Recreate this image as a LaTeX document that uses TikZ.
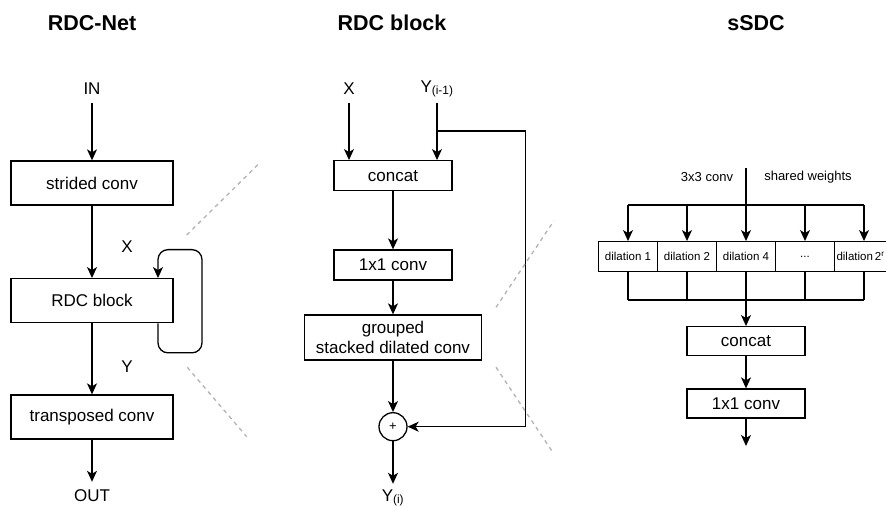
\documentclass[tikz,border=0pt]{standalone}
\usepackage{fontspec}
\setmainfont{Liberation Sans}
\usetikzlibrary{arrows.meta}
\tikzset{
  ln/.style={line width=1.3pt, black},
  arr/.style={ln, -{Stealth[length=11pt,width=10pt,inset=3pt]}},
  blk/.style={draw, line width=1.3pt, inner sep=0pt, align=center, font=\fontsize{17}{20}\selectfont},
  smallblk/.style={draw, line width=1.3pt, inner sep=0pt, minimum width=59pt, minimum height=30pt, font=\fontsize{11.5}{13}\selectfont},
  lbl/.style={inner sep=0pt, minimum height=28pt, font=\fontsize{17}{20}\selectfont},
  note/.style={inner sep=0pt, font=\fontsize{13}{15}\selectfont},
  ttl/.style={inner sep=0pt, font=\fontsize{21.5}{25}\selectfont\bfseries},
  gline/.style={line width=1.3pt, color=black!30, dash pattern=on 4pt off 4pt},
}
\begin{document}
\begin{tikzpicture}[x=1pt,y=-1pt]
\useasboundingbox (0,0) rectangle (886,510);

% titles
\node[ttl] (t1) at (92,23) {RDC-Net};
\node[ttl] (t2) at (392,23) {RDC block};
\node[ttl] (t3) at (756,23) {sSDC};

% ---------------- RDC-Net ----------------
\node[lbl] (in) at (92,89) {IN};
\node[blk, minimum width=162pt, minimum height=44pt] (sc) at (92,183) {strided conv};
\node[blk, minimum width=162pt, minimum height=44pt] (rdc) at (92,300.7) {RDC block};
\node[blk, minimum width=162pt, minimum height=44pt] (tc) at (92,417) {transposed conv};
\node[lbl] (out) at (92,496) {OUT};
\node[lbl] (xl) at (127,247) {X};
\node[lbl] (yl) at (127,367) {Y};

\draw[arr] (in) -- (sc);
\draw[arr] (sc) -- (rdc);
\draw[arr] (rdc) -- (tc);
\draw[arr] (tc) -- (out);
\draw[arr, rounded corners=10pt] ([xshift=66pt]rdc.south) -- ++(0,29.5) -- ++(44,0) -- ++(0,-103.2) -- ++(-44,0) -- ([xshift=66pt]rdc.north);

% ---------------- RDC block ----------------
\node[lbl] (x2) at (349,89) {X};
\node[lbl] (yim) at (437,89) {Y\textsubscript{(i-1)}};
\node[blk, minimum width=118pt, minimum height=30pt] (cat) at (393,175.7) {concat};
\node[blk, minimum width=118pt, minimum height=30pt] (c11) at (393,265) {1x1 conv};
\node[blk, minimum width=177pt, minimum height=45pt] (gsd) at (393,337.5) {grouped\\stacked dilated conv};
\node[draw, circle, line width=1.3pt, minimum size=28pt, inner sep=0pt, font=\fontsize{13}{15}\selectfont] (plus) at (393,426.7) {+};
\node[lbl] (yi) at (393,498) {Y\textsubscript{(i)}};

\coordinate (br) at (437,131);
\coordinate (rc) at (525.7,131);
\draw[arr] (x2) -- (x2 |- cat.north);
\draw[arr] (yim) -- (yim |- cat.north);
\draw[arr] (cat) -- (c11);
\draw[arr] (c11) -- (gsd);
\draw[arr] (gsd) -- (plus);
\draw[arr] (plus) -- (yi);
\draw[arr] (br) -- (rc) |- (plus);

% dashed guide lines
\draw[gline] (186.7,235) -- (259.3,163.3);
\draw[gline] (187.3,367.3) -- (246.7,436.7);
\draw[gline] (496,307.3) -- (554,220.7);
\draw[gline] (496,367.3) -- (551.7,450.7);

% ---------------- sSDC ----------------
\node[note] (k3) at (707,177) {3x3 conv};
\node[note] (sw) at (808,177) {shared weights};
\coordinate (top) at (746,168);
\coordinate (hub) at (746,205);
\coordinate (low) at (746,300);

\node[smallblk] (d1) at (628,256.7) {dilation 1};
\node[smallblk] (d2) at (687,256.7) {dilation 2};
\node[smallblk] (d3) at (746,256.7) {dilation 4};
\node[smallblk] (d4) at (805,256.7) {...};
\node[smallblk, text width=55pt, inner xsep=2pt, align=left] (d5) at (864,256.7) {dilation\,2\textsuperscript{r}};

\node[blk, minimum width=118pt, minimum height=29pt] (cat2) at (746,341.2) {concat};
\node[blk, minimum width=118pt, minimum height=29pt] (c112) at (746,403.5) {1x1 conv};
\coordinate (end) at (746,446);

\draw[ln, line width=1.8pt] (top) -- (hub);
\draw[ln] (d1.north |- hub) -- (d5.north |- hub);
\foreach \d in {d1,d2,d3,d4,d5} {
  \draw[arr] (\d.north |- hub) -- (\d.north);
  \draw[ln] (\d.south) -- (\d.south |- low);
}
\draw[ln] (d1.south |- low) -- (d5.south |- low);
\draw[arr] (low) -- (cat2);
\draw[arr] (cat2) -- (c112);
\draw[arr] (c112) -- (end);
\end{tikzpicture}
\end{document}
